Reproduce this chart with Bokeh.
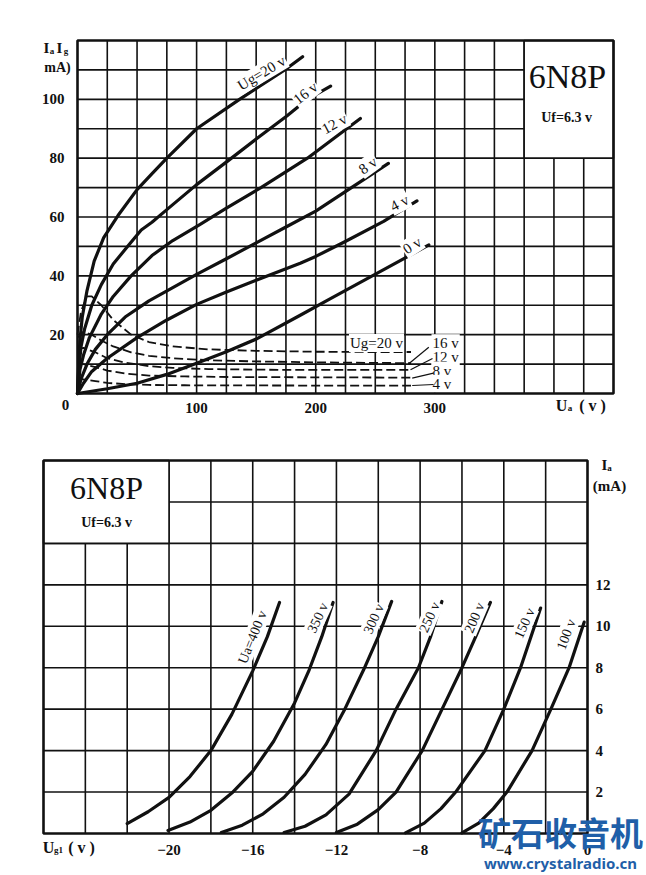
from bokeh.plotting import figure
from bokeh.layouts import column
from bokeh.models import FixedTicker, Label, Range1d, LinearAxis
from bokeh.core.properties import value
from bokeh.embed import file_html
from bokeh.resources import INLINE
import math

SERIF = "Liberation Serif"
INK = "#111111"

# ---------------- top chart: Ia (solid) and Ig (dashed) vs Ua ----------------
ua_ticks = [100, 200, 300]
ia_ticks = [20, 40, 60, 80, 100]

ia20_ua = [0, 1, 2, 4, 8, 14, 22, 34, 50, 62, 75, 100, 136, 174, 189]
ia20_ma = [0, 10, 18, 26, 35, 45, 53, 60.5, 69.3, 74.5, 80, 90, 100, 110, 114.5]
ia16_ua = [0, 1, 3, 6, 12, 20, 30, 42, 53.5, 62.5, 75, 100, 126, 150, 176, 193, 212.5]
ia16_ma = [0, 8, 16, 22, 30, 37, 44, 50, 55.6, 58.2, 62.5, 71, 79, 86.5, 94.4, 100, 104.5]
ia12_ua = [0, 2, 5, 10, 20, 30, 45, 62.5, 80, 103, 125, 154, 193, 226, 237.5]
ia12_ma = [0, 8, 13, 19, 27, 33, 40, 46.9, 52, 57.5, 63, 70, 80, 90, 93.5]
ia8_ua = [0, 3, 8, 15, 25, 40, 60, 80, 100, 125, 150, 175, 200, 230, 261]
ia8_ma = [0, 5, 10, 15, 20, 26, 31.5, 36, 40.5, 45.8, 51.2, 56.6, 62, 70, 78.2]
ia4_ua = [0, 5, 12, 25, 50, 75, 100, 125, 150, 187, 200, 224, 257, 285]
ia4_ma = [0, 3.5, 7.5, 12, 19, 25, 30.3, 34.5, 38.5, 44.3, 46.6, 51.5, 58.5, 65.5]
ia0_ua = [0, 25, 50, 75, 100, 125, 150, 187, 212, 249, 295]
ia0_ma = [0, 1.6, 3.5, 6.5, 10.3, 14.2, 18.5, 26.6, 32.2, 40.3, 50.5]

ig20_ua = [0, 3, 8, 12, 20, 30, 45, 60, 80, 110, 150, 200, 250, 280]
ig20_ma = [20, 28, 33, 33, 30, 25, 20, 17.5, 16, 15, 14.5, 14.2, 14.1, 14.1]
ig16_ua = [0, 5, 12, 20, 30, 45, 60, 80, 110, 150, 200, 280]
ig16_ma = [19, 21, 20, 18, 16, 14, 12.8, 12, 11.3, 10.9, 10.6, 10.3]
ig12_ua = [0, 5, 15, 25, 40, 60, 80, 110, 150, 200, 280]
ig12_ma = [15, 15.5, 14, 12, 10.5, 9.3, 8.7, 8.3, 8.1, 8.0, 8.0]
ig8_ua = [0, 5, 15, 25, 40, 60, 90, 130, 200, 280]
ig8_ma = [10, 10, 9, 7.8, 6.8, 6.1, 5.8, 5.6, 5.5, 5.4]
ig4_ua = [0, 5, 15, 25, 40, 60, 90, 130, 200, 280]
ig4_ma = [5, 4.8, 4.2, 3.6, 3.2, 2.9, 2.8, 2.75, 2.7, 2.7]

ia_labels = ["Ug=20 v", "16 v", "12 v", "8 v", "4 v", "0 v"]
ig_labels = ["Ug=20 v", "16 v", "12 v", "8 v", "4 v"]

# ---------------- bottom chart: Ia vs Ug1 ----------------
ug_ticks = [-20, -16, -12, -8, -4, 0]
ib_ticks = [2, 4, 6, 8, 10, 12]

u400_ug = [-22.0, -21, -20, -19, -18, -17, -16, -15.3, -14.72]
u400_ma = [0.48, 1.05, 1.74, 2.75, 4.0, 5.75, 7.85, 9.5, 11.15]
u350_ug = [-20.05, -19, -18, -17, -16, -15, -14, -13.3, -12.7, -12.16]
u350_ma = [0.15, 0.55, 1.12, 1.95, 3.0, 4.45, 6.3, 7.9, 9.5, 11.15]
u300_ug = [-17.5, -16.5, -15.5, -14.5, -13.5, -12.5, -11.6, -10.7, -10.0, -9.36]
u300_ma = [0.05, 0.4, 0.95, 1.75, 2.85, 4.3, 6.0, 7.9, 9.5, 11.2]
u250_ug = [-14.5, -13.5, -12.5, -11.4, -10.1, -9.15, -8.08, -7.5, -6.96]
u250_ma = [0.05, 0.35, 0.9, 1.9, 4.0, 6.0, 8.0, 9.5, 11.2]
u200_ug = [-12, -11, -10, -9.15, -7.9, -6.95, -6.0, -5.3, -4.64]
u200_ma = [0.05, 0.45, 1.15, 2.0, 4.0, 6.0, 8.0, 9.6, 11.15]
u150_ug = [-8.7, -7.8, -7.0, -6.3, -4.9, -4.0, -3.2, -2.24]
u150_ma = [0.03, 0.5, 1.2, 2.0, 4.0, 6.0, 8.0, 10.88]
u100_ug = [-6.0, -5.2, -4.5, -3.85, -2.65, -1.75, -0.88, -0.16]
u100_ma = [0.03, 0.5, 1.2, 2.0, 4.0, 6.0, 8.0, 10.2]

ua_curve_labels = ["Ua=400 v", "350 v", "300 v", "250 v", "200 v", "150 v", "100 v"]

# ---------------- page geometry (layout only) ----------------
PAGE_W = 646
TOP_H = 430
BOT_H = 875 - TOP_H

# top chart frame: Ua 0..450 -> px 77..613, Ia 0..120 -> py 393..40
TX0, TX1, TY0, TY1 = 77, 613, 393, 40
# bottom chart frame: Ug -26..0 -> px 43..587, Ia 0..18 -> py 833..460
BX0, BX1, BY0, BY1 = 43, 587, 833, 460


def top_xy(px, py):
    return (px - TX0) * 450 / (TX1 - TX0), (TY0 - py) * 120 / (TY0 - TY1)


def bot_xy(px, py):
    return -26 + (px - BX0) * 26 / (BX1 - BX0), (BY0 - py) * 18 / (BY0 - BY1)


def make_fig(w, h, conv, py_top, py_bot):
    x0, y_top = conv(0, py_top)
    x1, y_bot = conv(w, py_bot)
    p = figure(width=w, height=h, x_range=Range1d(x0, x1), y_range=Range1d(y_bot, y_top),
               output_backend="svg", toolbar_location=None,
               x_axis_location=None, y_axis_location=None,
               min_border=0, min_border_left=0, min_border_right=0,
               min_border_top=0, min_border_bottom=0)
    p.outline_line_color = None
    p.background_fill_color = "white"
    p.border_fill_color = "white"
    p.grid.visible = False
    return p


def style_axis(ax, standoff, size="15px"):
    ax.axis_line_color = None
    ax.major_tick_line_color = None
    ax.minor_tick_line_color = None
    ax.major_label_text_font = SERIF
    ax.major_label_text_font_style = "bold"
    ax.major_label_text_font_size = size
    ax.major_label_text_color = INK
    ax.major_label_standoff = standoff


def add_label(p, conv, px, py, text, size, style="normal", font=SERIF,
              color=INK, align="center", angle=0.0):
    x, y = conv(px, py)
    p.add_layout(Label(x=x, y=y, text=text, text_font=font,
                       text_font_size=size, text_font_style=style,
                       text_color=color, text_align=align,
                       text_baseline="middle", angle=angle))


def draw_grid(p, xs, ys, xmin, xmax, ymin, ymax):
    p.segment(x0=xs, y0=[ymin] * len(xs), x1=xs, y1=[ymax] * len(xs),
              line_color=INK, line_width=1.6)
    p.segment(x0=[xmin] * len(ys), y0=ys, x1=[xmax] * len(ys), y1=ys,
              line_color=INK, line_width=1.6)


# ============================ top figure ============================
p1 = make_fig(PAGE_W, TOP_H, top_xy, 0, TOP_H)
draw_grid(p1, list(range(25, 450, 25)), list(range(10, 120, 10)), 0, 450, 0, 120)
p1.quad(left=375, right=450, bottom=80, top=120, fill_color="white",
        line_color=INK, line_width=1.6)

xa1 = LinearAxis(fixed_location=0, ticker=FixedTicker(ticks=ua_ticks))
ya1 = LinearAxis(fixed_location=0, ticker=FixedTicker(ticks=ia_ticks))
style_axis(xa1, 3)
style_axis(ya1, 7)
p1.add_layout(xa1, "below")
p1.add_layout(ya1, "left")

for xs, ys in [(ia20_ua, ia20_ma), (ia16_ua, ia16_ma), (ia12_ua, ia12_ma),
               (ia8_ua, ia8_ma), (ia4_ua, ia4_ma), (ia0_ua, ia0_ma)]:
    p1.line(xs, ys, line_color=INK, line_width=3.2, line_join="round", line_cap="round")
for xs, ys in [(ig20_ua, ig20_ma), (ig16_ua, ig16_ma), (ig12_ua, ig12_ma),
               (ig8_ua, ig8_ma), (ig4_ua, ig4_ma)]:
    p1.line(xs, ys, line_color=INK, line_width=1.8, line_dash="9 4", line_join="round")

lab_px = [(261, 72.5), (305, 92.5), (334, 123.3), (367.5, 165), (399, 202.5), (411.7, 245)]
lab_ang = [31, 38, 28, 36, 28, 33]
for t, (px, py), a in zip(ia_labels, lab_px, lab_ang):
    x, y = top_xy(px, py)
    p1.text(x=[x], y=[y], text=[t], angle=math.radians(a), text_font=value(SERIF),
            text_font_size="15px", text_color=INK, text_align="center",
            text_baseline="middle", background_fill_color="white", padding=1)

x, y = top_xy(376, 342.5)
p1.text(x=[x], y=[y], text=[ig_labels[0]], text_font=value(SERIF), text_font_size="15px",
        text_color=INK, text_align="center", text_baseline="middle",
        background_fill_color="white", padding=1)
ig_lab_py = [342.7, 356.7, 370, 383.3]
lead_from = [(428.3, 346.7), (432, 358), (433, 372.7), (433, 384)]
lead_to = [(408.3, 363.3), (410, 369.3), (411.7, 377.7), (411.7, 385)]
for t, py, f, e in zip(ig_labels[1:], ig_lab_py, lead_from, lead_to):
    x, y = top_xy(431, py)
    p1.text(x=[x], y=[y], text=[t], text_font=value(SERIF), text_font_size="15px",
            text_color=INK, text_align="left", text_baseline="middle",
            background_fill_color="white", padding=1)
    x0, y0 = top_xy(*f)
    x1, y1 = top_xy(*e)
    p1.line([x0, x1], [y0, y1], line_color=INK, line_width=1.2)

# chart border
p1.quad(left=0, right=450, bottom=0, top=120, fill_color=None,
        line_color=INK, line_width=2.6)

add_label(p1, top_xy, 567, 76, "6N8P", "34px")
add_label(p1, top_xy, 566, 117, "Uf=6.3 v", "14px", style="bold")
add_label(p1, top_xy, 65, 404, "0", "15px", style="bold")
add_label(p1, top_xy, 46, 47, "I", "15px", style="bold")
add_label(p1, top_xy, 51.5, 50, "a", "9px", style="bold")
add_label(p1, top_xy, 59, 47, "I", "15px", style="bold")
add_label(p1, top_xy, 65.5, 50, "g", "9px", style="bold")
add_label(p1, top_xy, 57, 67, "mA)", "14px", style="bold")
add_label(p1, top_xy, 561, 405, "U", "16px", style="bold")
add_label(p1, top_xy, 569.5, 407, "a", "9px", style="bold")
add_label(p1, top_xy, 592, 405, "( v )", "16px", style="bold")

# ============================ bottom figure ============================
p2 = make_fig(PAGE_W, BOT_H, bot_xy, TOP_H, 875)
draw_grid(p2, list(range(-24, 0, 2)), list(range(2, 18, 2)), -26, 0, 0, 18)
p2.quad(left=-26, right=-20, bottom=14, top=18, fill_color="white",
        line_color=INK, line_width=1.6)

xa2 = LinearAxis(fixed_location=0, ticker=FixedTicker(ticks=ug_ticks))
xa2.major_label_overrides = {t: ("\u2212" + str(-t) if t < 0 else str(t)) for t in ug_ticks}
ya2 = LinearAxis(fixed_location=0, ticker=FixedTicker(ticks=ib_ticks))
style_axis(xa2, 5)
style_axis(ya2, 2)
p2.add_layout(xa2, "below")
p2.add_layout(ya2, "right")

for xs, ys in [(u400_ug, u400_ma), (u350_ug, u350_ma), (u300_ug, u300_ma),
               (u250_ug, u250_ma), (u200_ug, u200_ma), (u150_ug, u150_ma),
               (u100_ug, u100_ma)]:
    p2.line(xs, ys, line_color=INK, line_width=3.2, line_join="round", line_cap="round")

blab_px = [(252, 636.7), (317.3, 617.3), (373.3, 618.3), (429, 616.7),
           (474, 617.3), (524, 622.7), (565.7, 634)]
blab_ang = [68, 65, 66, 66, 67, 66, 70]
for t, (px, py), a in zip(ua_curve_labels, blab_px, blab_ang):
    x, y = bot_xy(px, py)
    p2.text(x=[x], y=[y], text=[t], angle=math.radians(a), text_font=value(SERIF),
            text_font_size="14px", text_color=INK, text_align="center",
            text_baseline="middle", background_fill_color="white", padding=1)

p2.quad(left=-26, right=0, bottom=0, top=18, fill_color=None,
        line_color=INK, line_width=2.6)

add_label(p2, bot_xy, 106, 487, "6N8P", "32px")
add_label(p2, bot_xy, 106, 522, "Uf=6.3 v", "14px", style="bold")
add_label(p2, bot_xy, 604, 464, "I", "15px", style="bold")
add_label(p2, bot_xy, 609, 467, "a", "9px", style="bold")
add_label(p2, bot_xy, 609, 485, "(mA)", "15px", style="bold")
add_label(p2, bot_xy, 48, 847, "U", "16px", style="bold")
add_label(p2, bot_xy, 58, 849, "g1", "9px", style="bold")
add_label(p2, bot_xy, 81, 847, "( v )", "16px", style="bold")

# site watermark
add_label(p2, bot_xy, 560, 831, "矿石收音机", "33px", style="bold",
          font="Noto Sans CJK SC", color="#1f5fa8")
add_label(p2, bot_xy, 560, 862, "www.crystalradio.cn", "15px", style="bold",
          font="Noto Sans", color="#1f5fa8")

layout = column(p1, p2, spacing=0)
open("out.html", "w").write(file_html(layout, INLINE))
